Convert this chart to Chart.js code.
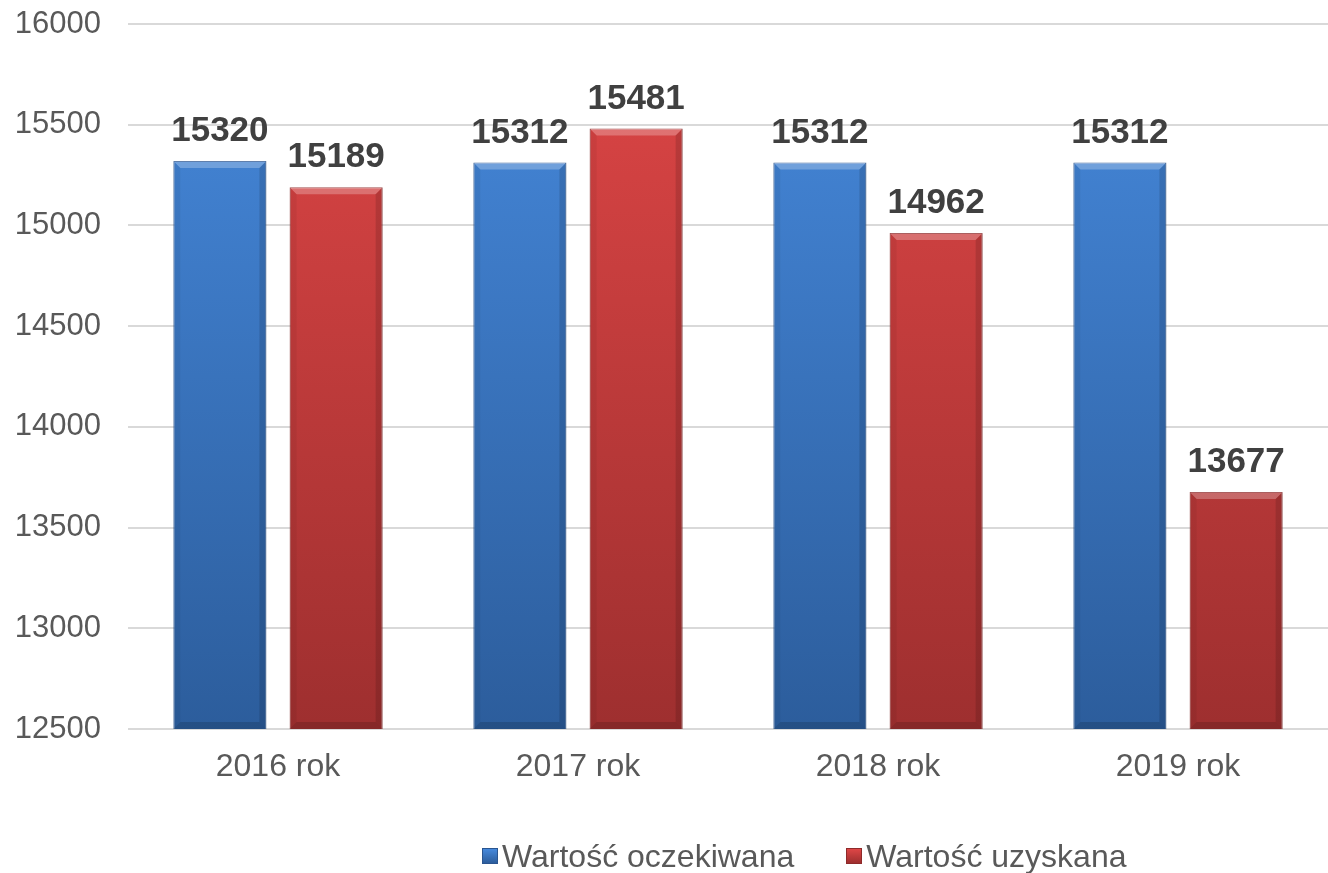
<!DOCTYPE html>
<html>
<head>
<meta charset="utf-8">
<script src="https://cdn.jsdelivr.net/npm/chart.js@4"></script>
<style>
  html, body { margin: 0; padding: 0; background: #fff; }
  #wrap { position: relative; width: 1328px; height: 873px; }
  #legend { position: absolute; left: 482px; top: 836px; font-family: "Liberation Sans", Arial, sans-serif;
            font-size: 32px; line-height: 40px; color: #595959; display: flex; align-items: center; white-space: nowrap; }
  #legend span.box { display: inline-block; width: 16px; height: 16px; margin-right: 4px; box-sizing: border-box; }
  #legend span.item { display: inline-flex; align-items: center; margin-right: 52px; }
</style>
</head>
<body>
<div id="wrap">
  <canvas id="barChart" width="1328" height="873"></canvas>
  <div id="legend"></div>
</div>
<script>
// data
var years = ['2016 rok', '2017 rok', '2018 rok', '2019 rok'];
var expected = [15320, 15312, 15312, 15312];
var obtained = [15189, 15481, 14962, 13677];
var seriesNames = ['Wartość oczekiwana', 'Wartość uzyskana'];
var yTicks = [12500, 13000, 13500, 14000, 14500, 15000, 15500, 16000];

var fontName = '"Liberation Sans", Arial, sans-serif';

function barGradient(top, bottom) {
    return function(context) {
        var chart = context.chart;
        var area = chart.chartArea;
        if (!area) {
            return top;
        }
        var g = chart.ctx.createLinearGradient(0, area.top, 0, area.bottom);
        g.addColorStop(0, top);
        g.addColorStop(1, bottom);
        return g;
    }
}

// bevel look on the bars, like the office chart
var bevel = {
    id: 'bevel',
    afterDatasetsDraw: function(chart) {
        var ctx = chart.ctx;
        var b = 7;
        ctx.save();
        chart.data.datasets.forEach(function(ds, i) {
            chart.getDatasetMeta(i).data.forEach(function(bar) {
                var l = bar.x - bar.width / 2, r = bar.x + bar.width / 2;
                var t = bar.y, bt = Math.min(bar.base, chart.chartArea.bottom);
                function quad(pts, col) {
                    ctx.beginPath();
                    ctx.moveTo(pts[0], pts[1]);
                    for (var k = 2; k < pts.length; k += 2) ctx.lineTo(pts[k], pts[k + 1]);
                    ctx.closePath();
                    ctx.fillStyle = col;
                    ctx.fill();
                }
                quad([l, t, r, t, r - b, t + b, l + b, t + b], 'rgba(255,255,255,0.25)');
                quad([l, t, l + b, t + b, l + b, bt - b, l, bt], 'rgba(0,0,0,0.05)');
                quad([r, t, r - b, t + b, r - b, bt - b, r, bt], 'rgba(0,0,0,0.13)');
                quad([l, bt, l + b, bt - b, r - b, bt - b, r, bt], 'rgba(0,0,0,0.15)');
            });
        });
        ctx.restore();
    }
}

// numbers over the bars
var valueLabels = {
    id: 'valueLabels',
    afterDatasetsDraw: function(chart) {
        var ctx = chart.ctx;
        ctx.save();
        ctx.font = 'bold 35px ' + fontName;
        ctx.fillStyle = '#404040';
        ctx.textAlign = 'center';
        ctx.textBaseline = 'alphabetic';
        chart.data.datasets.forEach(function(ds, i) {
            chart.getDatasetMeta(i).data.forEach(function(bar, j) {
                ctx.fillText(ds.data[j], bar.x, bar.y - 20);
            });
        });
        ctx.restore();
    }
}

const data = {
    labels: years,
    datasets: [{
        label: seriesNames[0],
        backgroundColor: barGradient('#4689dc', '#2c5d9c'),
        borderColor: '#2a5590',
        borderWidth: 1,
        data: expected
    },
    {
        label: seriesNames[1],
        backgroundColor: barGradient('#de4646', '#9e2f2f'),
        borderColor: '#8e2a2a',
        borderWidth: 1,
        data: obtained
    }]
}

const config = {
    type: 'bar',
    data: data,
    options: {
        responsive: false,
        animation: false,
        layout: {
            padding: { top: 24, bottom: 84, left: 14, right: 0 }
        },
        categoryPercentage: 0.775,
        barPercentage: 0.8,
        plugins: {
            legend: { display: false },
            tooltip: { enabled: false }
        },
        scales: {
            x: {
                grid: { display: false, drawTicks: false },
                border: { display: false },
                afterFit: function(axis) {
                    axis.height = 60;
                    axis.paddingLeft = 0;
                    axis.paddingRight = 0;
                },
                ticks: {
                    color: '#595959',
                    padding: 19,
                    font: { family: fontName, size: 32 }
                }
            },
            y: {
                min: yTicks[0],
                max: yTicks[yTicks.length - 1],
                afterBuildTicks: function(axis) {
                    axis.ticks = yTicks.map(function(v) { return { value: v }; });
                },
                afterFit: function(axis) {
                    axis.width = 114;
                    axis.paddingTop = 0;
                    axis.paddingBottom = 0;
                },
                grid: { color: '#d9d9d9', lineWidth: 2, drawTicks: false },
                border: { display: false },
                ticks: {
                    color: '#595959',
                    padding: 27,
                    font: { family: fontName, size: 31 },
                    callback: function(v) { return String(v); }
                }
            }
        }
    },
    plugins: [bevel, valueLabels]
}

var chart = new Chart('barChart', config)

// legend below the chart
var legendColors = [['#4689dc', '#2c5d9c', '#2a5590'], ['#de4646', '#9e2f2f', '#8e2a2a']];
var legendDiv = document.getElementById('legend');
seriesNames.forEach(function(name, i) {
    var item = document.createElement('span');
    item.className = 'item';
    var box = document.createElement('span');
    box.className = 'box';
    box.style.background = 'linear-gradient(' + legendColors[i][0] + ',' + legendColors[i][1] + ')';
    box.style.border = '1px solid ' + legendColors[i][2];
    item.appendChild(box);
    item.appendChild(document.createTextNode(name));
    legendDiv.appendChild(item);
});
</script>
</body>
</html>
